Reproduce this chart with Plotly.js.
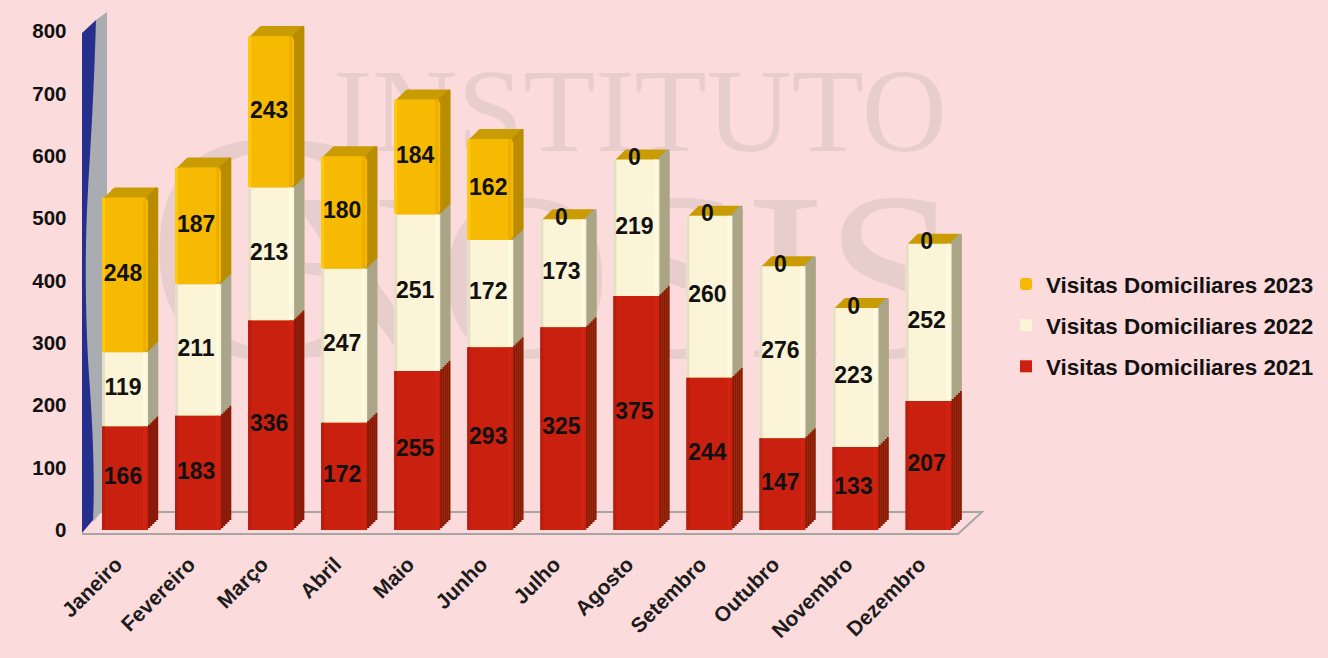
<!DOCTYPE html>
<html><head><meta charset="utf-8">
<script src="https://cdn.plot.ly/plotly-3.0.1.min.js"></script>
<style>html,body{margin:0;padding:0;background:#fbdbdb;overflow:hidden}</style>
</head><body><div id="chart" style="width:1328px;height:658px"></div>
<script>
const months = ["Janeiro","Fevereiro","Março","Abril","Maio","Junho","Julho","Agosto","Setembro","Outubro","Novembro","Dezembro"];
const visitas2021 = [166,183,336,172,255,293,325,375,244,147,133,207];
const visitas2022 = [119,211,213,247,251,172,173,219,260,276,223,252];
const visitas2023 = [248,187,243,180,184,162,0,0,0,0,0,0];
const seriesNames = ["Visitas Domiciliares 2021","Visitas Domiciliares 2022","Visitas Domiciliares 2023"];
const yTicks = [0,100,200,300,400,500,600,700,800];

const FONT = '"Liberation Sans",Arial,sans-serif';
const W = 1328, H = 658;
const fx = p => p / W, fy = p => 1 - p / H;
const STEP = 73.05, LEFT = 88.5, BOTTOM = 530, TOP = 31;
const half = 23 / STEP;
const series = [visitas2021, visitas2022, visitas2023];
const base = [months.map(() => 0), visitas2021, visitas2021.map((v, i) => v + visitas2022[i])];
const totals = months.map((_, i) => visitas2021[i] + visitas2022[i] + visitas2023[i]);
const faceColor = ["#c9200f", "#fcf4d6", "#f7ba02"];
const leftEdge = ["#b81d0e", "#e4dfc6", "#fdc90c"];
const rightEdge = ["#d22412", "#fffbe2", "#eeae00"];
const sideColor = ["#8a190b", "#a9a690", "#b98c00"];
const capColor = "#c99c04";
const depths = [10, 8, 6, 4, 2];

const traces = [];
const layout = {
  width: W, height: H, autosize: false, margin: {l:0,r:0,t:0,b:0},
  paper_bgcolor: "#fbdbdb", plot_bgcolor: "rgba(0,0,0,0)",
  barmode: "overlay", showlegend: true,
  font: {family: FONT, color: "#111"},
  legend: {x: fx(1006), y: fy(263), xanchor: "left", yanchor: "top", bgcolor: "rgba(0,0,0,0)",
           tracegroupgap: 9, itemclick: false,
           font: {family: FONT, size: 22.4, color: "#111", weight: 700}},
  shapes: [], annotations: []
};
function axId(n){ return n === 1 ? "" : String(n); }
function setAxes(n, dx, dy, visible){
  const xa = {domain:[fx(LEFT + dx), fx(LEFT + dx + 12 * STEP)], range:[-0.5,11.5], type:"category",
              categoryorder:"array", categoryarray:months, anchor:"y"+axId(n),
              showgrid:false, zeroline:false, showline:false, visible:visible};
  const ya = {domain:[fy(BOTTOM - dy), fy(TOP - dy)], range:[0,800], anchor:"x"+axId(n),
              showgrid:false, zeroline:false, showline:false, visible:visible};
  layout["xaxis"+axId(n)] = xa; layout["yaxis"+axId(n)] = ya;
  return [xa, ya];
}
function bar(n, y, b, color, w, off, extra){
  return Object.assign({type:"bar", x:months, y:y, base:b, width:w, offset:off,
    xaxis:"x"+axId(n), yaxis:"y"+axId(n), showlegend:false, hoverinfo:"skip",
    marker:{color:color, line:{width:0}}}, extra || {});
}
// depth layers: top cap + side strips
depths.forEach((d, k) => {
  const n = k + 1;
  setAxes(n, d, d, false);
  const zeros = months.map(() => 0);
  traces.push(bar(n, totals, zeros, capColor, 2*half, -half, {marker:{color:capColor, cornerradius:4, line:{width:0}}}));
  series.forEach((s, j) => traces.push(bar(n, s, base[j], sideColor[j], 3.2/STEP, half - 3/STEP)));
});
// front faces (newest series first so the legend reads 2023, 2022, 2021)
const F = depths.length + 1;
const [fxa, fya] = setAxes(F, 0, 0, true);
Object.assign(fxa, {tickangle:-45, ticks:"", ticklabelstandoff:17, ticklabelshift:-9,
  tickfont:{family:FONT, size:21, color:"#1c1c1c", weight:700}, tickvals:months, ticktext:months});
Object.assign(fya, {tickvals:yTicks, ticktext:yTicks.map(String), ticks:"", ticklabelstandoff:21,
  tickfont:{family:FONT, size:20.5, color:"#111", weight:700}});
[2,1,0].forEach(j => {
  const s = series[j];
  const radius = j === 2 ? 5 : 0;
  traces.push(bar(F, s, base[j], faceColor[j], 2*half, -half, {
    name: seriesNames[j], showlegend:true, legendgroup:seriesNames[j],
    marker:{color:faceColor[j], cornerradius:radius, line:{width:0}}}));
  traces.push(bar(F, s, base[j], leftEdge[j], 3/STEP, -half));
  traces.push(bar(F, s, base[j], rightEdge[j], 3/STEP, half - 5/STEP));
});
// value labels, a touch left of the bar centre
const L = F + 1;
setAxes(L, -2, 0, false);
series.forEach((s, j) => {
  const labelY = s.map((v, i) => v === 0 ? base[j][i] : base[j][i] + v / 2);
  traces.push({type:"scatter", mode:"text", x:months, y:labelY, text:s.map(String),
    textposition:"middle center", cliponaxis:false, showlegend:false, hoverinfo:"skip",
    xaxis:"x"+axId(L), yaxis:"y"+axId(L),
    textfont:{family:FONT, size:23, color:"#111", weight:700}});
});
// wall and floor
const p = layout.shapes;
const path = (d, fill, line) => ({type:"path", xref:"paper", yref:"paper", layer:"below", path:d, fillcolor:fill,
  line:{color:line||"rgba(0,0,0,0)", width:line?2:0}});
const pt = (x, y) => fx(x) + "," + fy(y);
p.push(path("M"+pt(96,20)+" L"+pt(107,12)+" L"+pt(107,505)+" L"+pt(93,522)+" L"+pt(84,400)+" L"+pt(84,200)+" Z", "#a9adb2"));
p.push(path("M"+pt(82,33)+" L"+pt(96,20)+" C"+pt(94,90)+" "+pt(91,140)+" "+pt(88,190)+" C"+pt(84,260)+" "+pt(86,330)+" "+pt(89,375)
  +" C"+pt(93,430)+" "+pt(95,480)+" "+pt(93,520)+" L"+pt(82,533)+" Z", "#26308c"));
p.push(path("M"+pt(82,534)+" L"+pt(958,534)+" L"+pt(982,512)+" L"+pt(100,512), "rgba(0,0,0,0)", "#a8a4a4"));
const wm = (x0,y0,x1,y1,t,size) => ({type:"rect", xref:"paper", yref:"paper", layer:"below",
  x0:fx(x0), x1:fx(x1), y0:fy(y1), y1:fy(y0), fillcolor:"rgba(0,0,0,0)", line:{width:0},
  label:{text:t, textposition:"middle center", font:{family:'"Liberation Serif",serif', size:size, color:"#e8cdcd"}}});
p.push(wm(330,33,950,163,"INSTITUTO",118));
p.push(wm(140,80,390,340,"G",330));
p.push(wm(280,145,944,355,"NOSIS",240));

Plotly.newPlot("chart", traces, layout, {displayModeBar:false, responsive:false});
</script></body></html>
